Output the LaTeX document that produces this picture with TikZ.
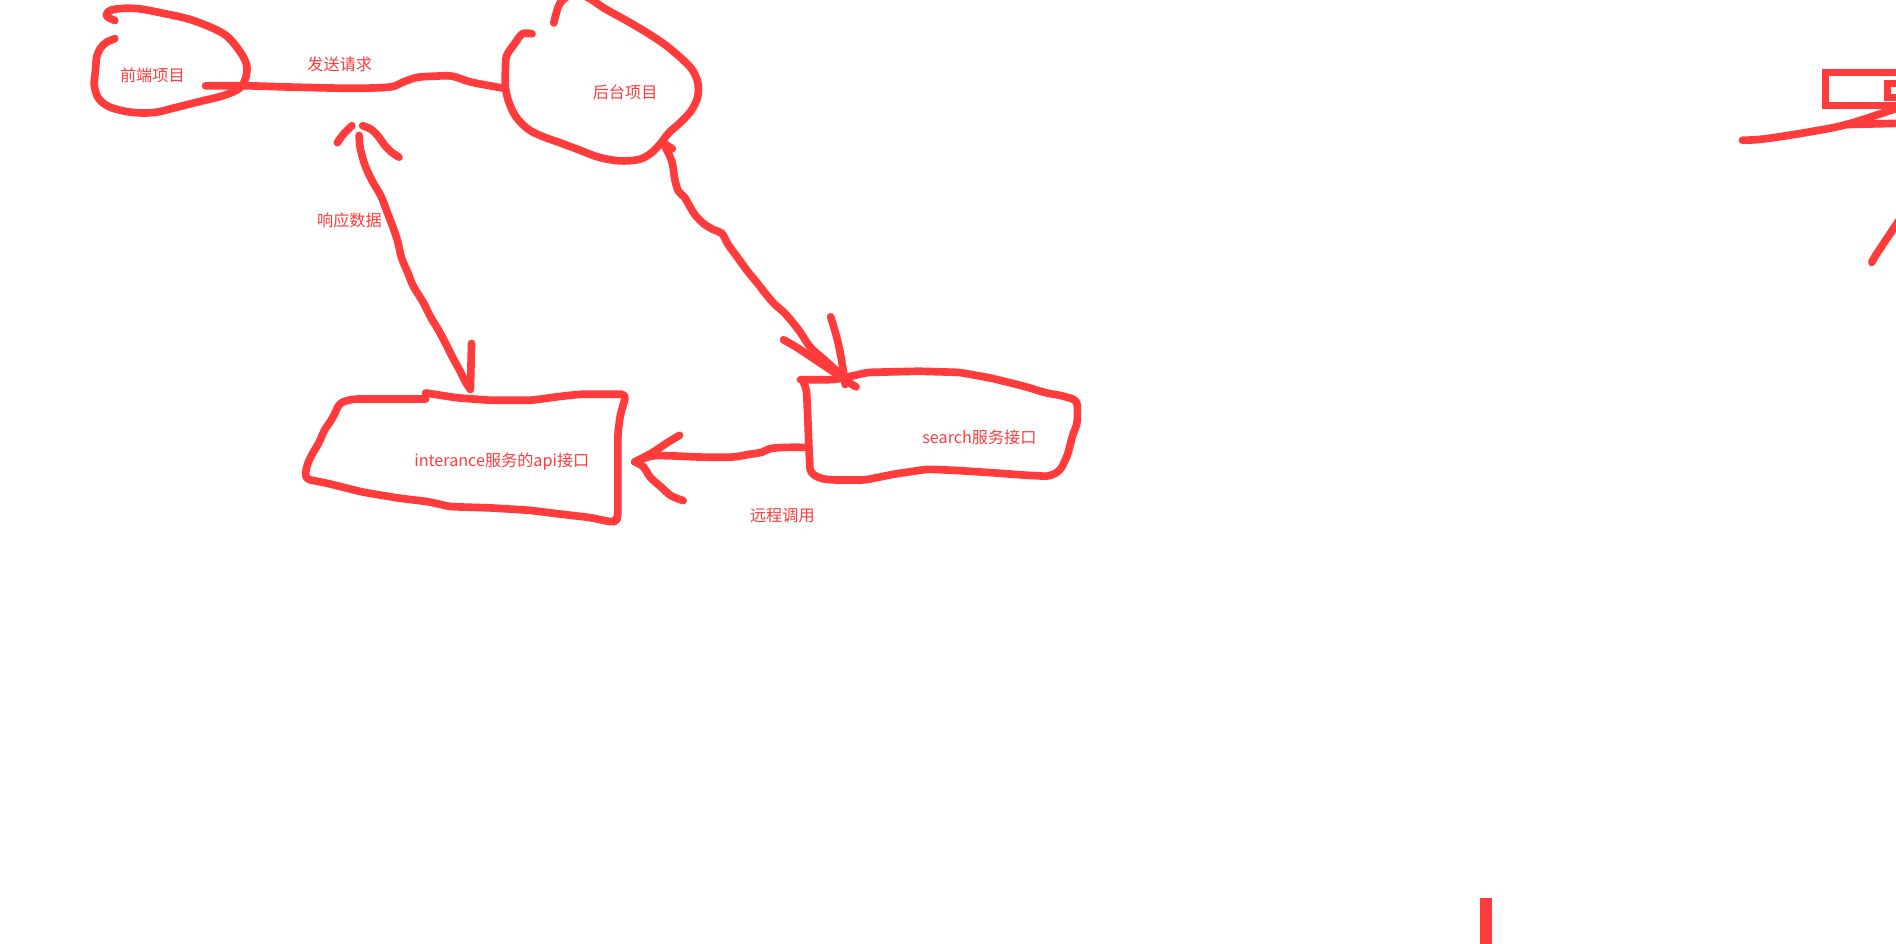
\documentclass[tikz,border=0pt]{standalone}
\usepackage{fontspec}
\newfontfamily\cjk{Noto Sans CJK SC}
\definecolor{ink}{RGB}{255,59,59}
\tikzset{
  stroke/.style={draw=ink, line width=4.5pt, line cap=round, line join=round},
  hard/.style={draw=ink, line width=4.1pt, line cap=rect, line join=miter},
  lbl/.style={text=ink, font=\cjk\fontsize{9.5}{11}\selectfont, inner sep=0pt},
  freehand/.style={smooth, tension=0.55},
}
\begin{document}
\begin{tikzpicture}[x=0.025cm,y=-0.025cm]
\useasboundingbox (0,0) rectangle (1568,780);
\clip (0,0) rectangle (1568,780);

% ---- labels ----
\node[lbl] (fe)   at (126,62)  {前端项目};
\node[lbl] (be)   at (517,76)  {后台项目};
\node[lbl] (intf) at (415,382) {interance服务的api接口};
\node[lbl] (srch) at (810,362) {search服务接口};
\node[lbl] (lsend) at (281,53)  {发送请求};
\node[lbl] (lresp) at (289,182) {响应数据};
\node[lbl] (lrpc)  at (647,426) {远程调用};

% ---- connector end points ----
\coordinate (feOut)  at (170,71);
\coordinate (beIn)   at (417,73);
\coordinate (beLow)  at (548,118);
\coordinate (srTop)  at (703,317);
\coordinate (respTip) at (297,112);
\coordinate (intTop) at (389,322);
\coordinate (srLeft) at (668,370);
\coordinate (intRight) at (525,382);

% ---- front-end loop ----
\draw[stroke] plot[freehand] coordinates {
  (95,17) (88,13) (93,8) (112,7) (135,11) (160,17) (185,28) (198,42)
  (204,54) (203,65) (198,73) (185,79) (165,84) (145,89) (128,93) (110,93)
  (92,89) (82,82) (78,71) (79,58) (80,47) (83,40) (88,35) (95,32)};

% ---- back-end loop ----
\draw[stroke] plot[freehand] coordinates {
  (440,28) (432,28) (425,37) (419,46) (418,57) (418,72) (421,85) (427,97)
  (437,107) (449,113) (463,118) (479,124) (495,130) (512,133) (528,132)
  (538,127) (546,119) (553,110) (563,101) (572,91) (577,80) (577,68)
  (572,57) (562,47) (550,37) (535,27) (518,17) (500,7) (484,-3)
  (470,-3) (463,3) (460,11) (458,19)};

% ---- interance box ----
\draw[stroke, rounded corners=3] (352,325) -- (378,329) -- (405,331) -- (440,331)
  -- (462,328) -- (480,326) -- (518,326) -- (513,343) -- (511,358) -- (511,400)
  -- (511,429) -- (507,432) -- (488,428) -- (462,425) -- (438,422) -- (405,420)
  -- (372,419) -- (355,415) -- (330,412) -- (300,407) -- (272,400) -- (252,396)
  -- (254,384) -- (259,374) -- (264,366) -- (268,356) -- (275,346) -- (281,333)
  -- (292,330) -- (330,330) -- (352,330);

% ---- search box ----
\draw[stroke, rounded corners=3] (662,314) -- (668,314) -- (690,314) -- (709,310)
  -- (717,308) -- (760,307) -- (794,308) -- (821,313) -- (849,320) -- (865,325)
  -- (877,327) -- (891,331) -- (891,350) -- (887,360) -- (883,376) -- (877,389)
  -- (868,394) -- (848,393) -- (821,391) -- (790,389) -- (767,388) -- (740,392)
  -- (715,397) -- (690,397) -- (679,396) -- (670,391) -- (669,370) -- (668,345)
  -- (667,322) -- (664,315);

% ---- request: front-end -> back-end ----
\draw[stroke] plot[freehand] coordinates {
  (feOut) (205,71) (240,72) (290,73) (322,72) (333,68) (345,64)
  (360,63) (374,63) (390,68) (beIn)};

% ---- response: interance -> front-end ----
\draw[stroke] plot[freehand] coordinates {
  (respTip) (298,123) (302,137) (308,150) (315,162) (320,175) (325,188)
  (329,200) (332,213) (337,225) (342,237) (350,250) (356,262) (362,272)
  (368,283) (374,295) (380,306) (385,316) (intTop)};
\draw[stroke] plot[freehand] coordinates {(279,118) (284,111) (291,104)};
\draw[stroke] plot[freehand] coordinates {
  (300,104) (307,107) (313,113) (318,120) (324,126) (330,130)};
\draw[stroke] (390,284) -- (intTop);

% ---- back-end <-> search ----
\draw[stroke] plot[freehand] coordinates {
  (beLow) (552,125) (556,135) (558,148) (561,158) (566,163) (570,170)
  (575,178) (582,185) (590,190) (597,193) (602,202) (610,213) (618,224)
  (627,235) (634,244) (641,252) (648,258) (655,266) (662,275) (670,287)
  (680,296) (690,305) (srTop)};
\draw[stroke] (beLow) -- (556,123);
\draw[stroke] plot[freehand] coordinates {
  (648,281) (660,288) (675,298) (690,308) (srTop)};
\draw[stroke] plot[freehand] coordinates {
  (687,262) (690,272) (693,283) (696,298) (699,318)};
\draw[stroke] (srTop) -- (708,320);

% ---- remote call: search -> interance ----
\draw[stroke] plot[freehand] coordinates {
  (srLeft) (650,370) (637,371) (630,374) (618,376) (605,378) (580,378)
  (555,377) (540,377) (530,380) (intRight)};
\draw[stroke] plot[freehand] coordinates {
  (562,360) (552,366) (540,374) (intRight)};
\draw[stroke] plot[freehand] coordinates {
  (intRight) (532,386) (538,395) (547,403) (555,410) (565,414)};

% ---- marks at the right edge ----
\draw[hard] (1510,60) rectangle (1575,87);
\draw[hard] (1561,69) rectangle (1575,81);
\coordinate (forkR) at (1527,103);
\draw[stroke] plot[freehand] coordinates {
  (1441,116) (1458,115) (1491,110) (forkR) (1570,89)};
\draw[stroke] (forkR) -- (1570,102);
\draw[stroke] plot[freehand] coordinates {(1548,217) (1552,210) (1570,183)};
\fill[ink] (1224,743) rectangle (1234,782);
\end{tikzpicture}
\end{document}
